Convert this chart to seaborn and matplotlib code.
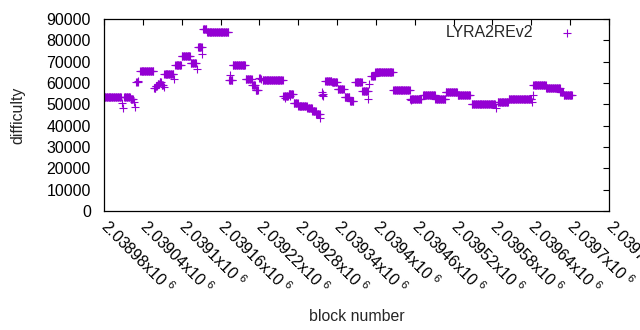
import numpy as np
import pandas as pd
import matplotlib
matplotlib.use("Agg")
import matplotlib.pyplot as plt
import seaborn as sns

# first block shown on the x axis
base_block = 2038980

# runs of constant difficulty: first block offset, last block offset, difficulty
seg_start = [0, 31, 41, 50, 56, 77, 80, 83, 86, 89, 93, 110, 120, 134, 145, 153,
             159, 193, 199, 219, 229, 234, 245, 277, 285, 293, 300, 314, 322, 328,
             342, 352, 361, 372, 380, 388, 399, 413, 419, 447, 473, 493, 512, 528,
             546, 568, 608, 625, 663, 683, 705, 710]
seg_end = [26, 40, 45, 52, 76, 79, 82, 85, 88, 91, 107, 119, 133, 142, 151, 158,
           192, 198, 218, 228, 233, 238, 276, 284, 292, 299, 313, 321, 327, 333,
           351, 360, 370, 379, 385, 398, 407, 418, 446, 472, 490, 511, 527, 545,
           565, 604, 624, 660, 682, 704, 709, 722]
seg_diff = [53300, 53600, 52500, 60400, 65600, 57500, 58800, 59600, 60500, 59200,
            64200, 68400, 72600, 69200, 76700, 85200, 83800, 61400, 68400, 62000,
            59000, 56700, 61400, 53800, 54900, 50800, 49400, 48200, 46900, 45500,
            60900, 60300, 57300, 53500, 51700, 60300, 56400, 63400, 65000, 56700,
            52500, 54400, 52500, 55900, 54400, 50000, 51200, 52500, 59000, 57800,
            56000, 54200]

# single blocks off the runs
odd_offset = [28, 29, 47, 48, 53, 92, 108, 144, 152, 195, 239, 241, 243, 280, 288,
              334, 336, 337, 338, 339, 408, 410, 474, 606, 661, 662, 723]
odd_diff = [50600, 48300, 51000, 48800, 60800, 58000, 61900, 66600, 73600, 63800,
            62300, 62300, 62000, 53000, 54000, 43600, 55900, 54500, 53900, 54900,
            52500, 59500, 52000, 48300, 51100, 54400, 54200]

blocks, diffs = [], []
for s, e, d in zip(seg_start, seg_end, seg_diff):
    for b in range(s, e + 1):
        blocks.append(base_block + b)
        diffs.append(d)
for b, d in zip(odd_offset, odd_diff):
    blocks.append(base_block + b)
    diffs.append(d)
df = pd.DataFrame({"block": blocks, "difficulty": diffs})

sns.set_style("white")
plt.rcParams["font.family"] = ["Liberation Sans", "DejaVu Sans"]
plt.rcParams["mathtext.default"] = "regular"

fig = plt.figure(figsize=(6.4, 3.3), dpi=100)
ax = fig.add_axes([104 / 640, 1 - 211 / 330, 505 / 640, 192 / 330])

sns.scatterplot(data=df, x="block", y="difficulty", marker="+", color="#9400d3",
                s=36, linewidth=0.8, label="LYRA2REv2", ax=ax)

xticks = [base_block + 60 * k for k in range(14)]
ax.set_xlim(xticks[0], xticks[-1])
ax.set_ylim(0, 90000)
ax.set_xticks(xticks)
ax.set_xticklabels([f"{v / 1e6:g}x10 $^{{6}}$" for v in xticks],
                   rotation=-45, ha="left", va="center", rotation_mode="anchor")
ax.set_yticks(range(0, 90001, 10000))
ax.tick_params(direction="in", length=4.5, width=0.8, top=True, right=True,
               labelsize=11.4, colors="black")
ax.tick_params(axis="y", pad=9.5)
ax.tick_params(axis="x", pad=9)
for sp in ax.spines.values():
    sp.set_color("black")
    sp.set_linewidth(0.9)

ax.set_xlabel("block number", fontsize=11.4, labelpad=8)
ax.set_ylabel("difficulty", fontsize=11.4, labelpad=15.5)

ax.legend(loc="upper right", bbox_to_anchor=(0.959, 0.97), frameon=False,
          markerfirst=False, fontsize=11.4, handlelength=2.7, handletextpad=0.8,
          borderpad=0, borderaxespad=0)

plt.savefig("out.png", dpi=100)
